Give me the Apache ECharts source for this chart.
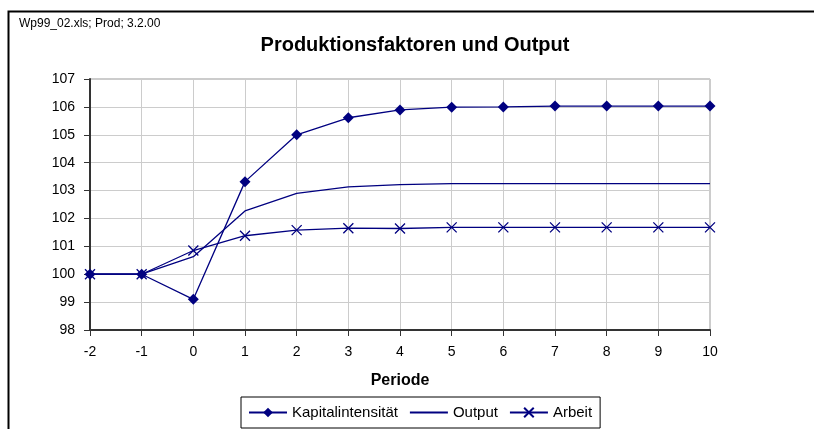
<!DOCTYPE html>
<html>
<head>
<meta charset="utf-8">
<script src="https://cdn.jsdelivr.net/npm/echarts@6/dist/echarts.min.js"></script>
<style>
  html, body { margin: 0; padding: 0; background: #fff; }
  #main { width: 814px; height: 429px; }
</style>
</head>
<body>
<div id="main"></div>
<script>
  // periods on the x axis
  var perioden = ['-2', '-1', '0', '1', '2', '3', '4', '5', '6', '7', '8', '9', '10'];
  var kapitalintensitaet = [100, 100, 99.1, 103.32, 105.0, 105.61, 105.89, 105.99, 106.0, 106.03, 106.03, 106.03, 106.03];
  var output = [100, 100, 100.63, 102.27, 102.9, 103.13, 103.21, 103.25, 103.25, 103.25, 103.25, 103.25, 103.25];
  var arbeit = [100, 100, 100.85, 101.38, 101.58, 101.65, 101.64, 101.68, 101.68, 101.68, 101.68, 101.68, 101.68];

  var navy = '#000080';
  var font = 'Liberation Sans, Arial, sans-serif';

  var chart = echarts.init(document.getElementById('main'));
  var option = {
    animation: false,
    backgroundColor: '#fff',
    textStyle: { fontFamily: font },
    graphic: [
      {
        type: 'rect',
        left: 6, top: 9,
        shape: { width: 900, height: 500 },
        style: { fill: 'none', stroke: '#000', lineWidth: 2 },
        silent: true, z: -1
      },
      {
        type: 'text',
        left: 19, top: 18,
        style: { text: 'Wp99_02.xls; Prod; 3.2.00', font: '12px ' + font, fill: '#000' }
      }
    ],
    title: {
      text: 'Produktionsfaktoren und Output',
      left: 410, top: 30, textAlign: 'center',
      textStyle: { fontSize: 20, fontWeight: 'bold', color: '#000', fontFamily: font }
    },
    grid: {
      left: 90, right: 104, top: 79, bottom: 99,
      show: true, borderColor: '#999', borderWidth: 1
    },
    xAxis: {
      type: 'category',
      data: perioden,
      boundaryGap: false,
      name: 'Periode',
      nameLocation: 'middle',
      nameGap: 43,
      nameTextStyle: { fontSize: 16, fontWeight: 'bold', color: '#000', fontFamily: font },
      axisLine: { lineStyle: { color: '#333', width: 2 } },
      axisTick: { length: 6, lineStyle: { color: '#333' } },
      axisLabel: { fontSize: 14, color: '#000', margin: 15, fontFamily: font },
      splitLine: { show: true, lineStyle: { color: '#ccc' } }
    },
    yAxis: {
      type: 'value',
      min: 98, max: 107, interval: 1,
      axisLine: { show: true, lineStyle: { color: '#333', width: 2 } },
      axisTick: { show: true, length: 6, lineStyle: { color: '#333' } },
      axisLabel: { fontSize: 14, color: '#000', margin: 15, fontFamily: font },
      splitLine: { show: true, lineStyle: { color: '#ccc' } }
    },
    legend: {
      left: 241, top: 397,
      padding: [8, 8, 8, 7],
      borderColor: '#000', borderWidth: 1,
      itemWidth: 38, itemHeight: 12, itemGap: 11,
      textStyle: { fontSize: 15, color: '#000', fontFamily: font },
      data: [
        { name: 'Kapitalintensität' },
        { name: 'Output', itemStyle: { opacity: 0 } },
        { name: 'Arbeit' }
      ]
    },
    series: [
      {
        name: 'Kapitalintensität',
        type: 'line',
        data: kapitalintensitaet,
        symbol: 'diamond',
        symbolSize: 11,
        itemStyle: { color: navy },
        lineStyle: { color: navy, width: 1.3 }
      },
      {
        name: 'Output',
        type: 'line',
        data: output,
        symbol: 'none',
        itemStyle: { color: navy },
        lineStyle: { color: navy, width: 1.3 }
      },
      {
        name: 'Arbeit',
        type: 'line',
        data: arbeit,
        symbol: 'path://M0,0L10,10M10,0L0,10',
        symbolSize: 10,
        showAllSymbol: true,
        itemStyle: { color: 'none', borderColor: navy, borderWidth: 1.3 },
        lineStyle: { color: navy, width: 1.3 }
      }
    ]
  };
  chart.setOption(option);
  window.addEventListener('resize', function () {
    chart.resize();
  });
</script>
</body>
</html>
